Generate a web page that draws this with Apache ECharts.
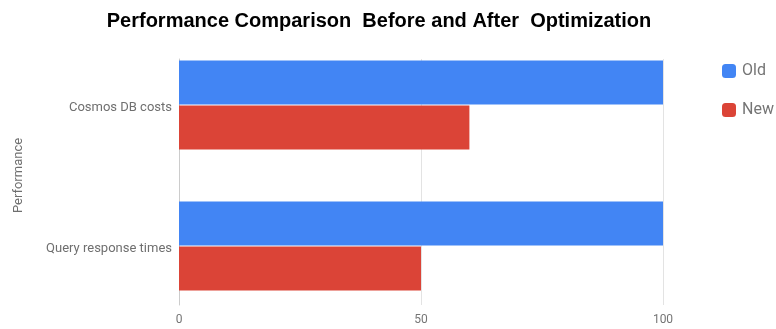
<!DOCTYPE html>
<html>
<head>
<meta charset="utf-8">
<script src="https://cdn.jsdelivr.net/npm/echarts@6/dist/echarts.min.js"></script>
<style>html,body{margin:0;padding:0;background:#fff}#c{width:776px;height:329px}</style>
</head>
<body>
<div id="c"></div>
<script>
const categories = ['Cosmos DB costs', 'Query response times'];
const oldValues = [100, 100];
const newValues = [60, 50];
const seriesNames = ['Old', 'New'];
const xTicks = [0, 50, 100];

const chart = echarts.init(document.getElementById('c'), null, {renderer: 'canvas'});
const labelFont = 'Roboto, "Noto Sans", sans-serif';
chart.setOption({
  animation: false,
  backgroundColor: '#ffffff',
  title: {
    text: 'Performance Comparison  Before and After  Optimization',
    left: 374, textAlign: 'center', top: 6,
    textStyle: {fontFamily: '"Liberation Sans", Arial, sans-serif', fontWeight: 'bold', fontSize: 20, color: '#000'}
  },
  legend: {
    orient: 'vertical', left: 717, top: 58,
    itemWidth: 14, itemHeight: 14, itemGap: 23, icon: 'roundRect',
    data: seriesNames,
    textStyle: {fontFamily: labelFont, fontSize: 16, color: '#757575', padding: [0, 0, 0, 1]}
  },
  grid: [
    {left: 179, right: 113, top: 34.5, height: 282},
    {left: 179, right: 113, top: 59, bottom: 24}
  ],
  xAxis: [
    {gridIndex: 0, type: 'value', min: 0, max: 100, show: false},
    {gridIndex: 1, type: 'value', min: 0, max: 100, interval: 50,
     axisLine: {show: false}, axisTick: {show: false},
     splitLine: {show: true, lineStyle: {color: '#e3e3e3', width: 1}},
     axisLabel: {fontFamily: labelFont, fontSize: 12, color: '#757575', margin: 9,
       formatter: v => xTicks.includes(v) ? String(v) : ''}}
  ],
  yAxis: [
    {gridIndex: 0, type: 'category', data: categories, inverse: true,
     axisLine: {show: false}, axisTick: {show: false},
     axisLabel: {margin: 7,
       formatter: v => '{a|' + v + '}',
       rich: {a: {fontFamily: labelFont, fontSize: 13, color: '#6f6f6f', padding: [5, 0, 0, 0]}}},
     name: 'Performance', nameLocation: 'middle', nameGap: 154,
     nameTextStyle: {fontFamily: labelFont, fontSize: 13, color: '#6f6f6f'}},
    {gridIndex: 1, type: 'category', data: categories, inverse: true,
     axisLine: {show: true, lineStyle: {color: '#cccccc', width: 1}},
     axisTick: {show: false}, axisLabel: {show: false}}
  ],
  series: [
    {name: seriesNames[0], type: 'bar', xAxisIndex: 0, yAxisIndex: 0, data: oldValues,
     barWidth: 44, barGap: '2%', itemStyle: {color: '#4285F4'}},
    {name: seriesNames[1], type: 'bar', xAxisIndex: 0, yAxisIndex: 0, data: newValues,
     barWidth: 44, barGap: '2%', itemStyle: {color: '#DB4437'}}
  ]
});
</script>
</body>
</html>
